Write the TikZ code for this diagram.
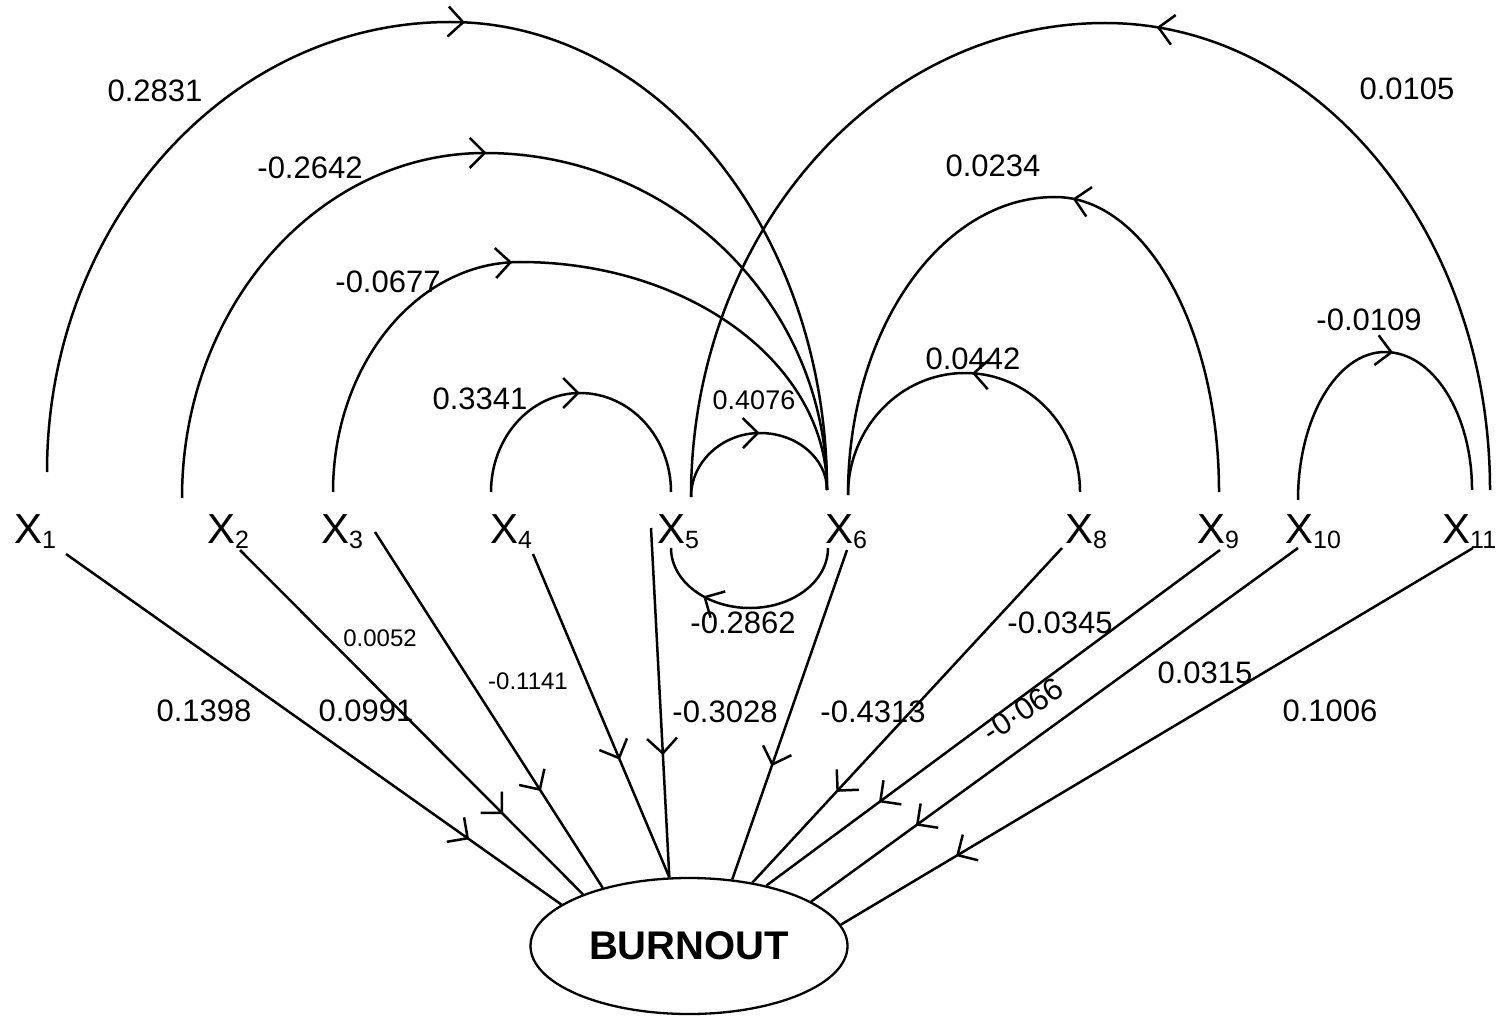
\documentclass[tikz,border=0pt]{standalone}
\usepackage{fontspec}
\setmainfont{Liberation Sans}
\usetikzlibrary{arrows.meta,decorations.markings,shapes.geometric}

\begin{document}
\begin{tikzpicture}[x=1pt,y=-1pt,
  conn/.style={line width=2.5pt},
  mid/.style={postaction={decorate},
    decoration={markings,mark=at position #1 with {\arrow{Straight Barb[length=15pt,width=30pt]}}}},
  var/.style={inner sep=0pt,anchor=base west,font=\fontsize{42}{50}\selectfont},
  lab/.style={inner sep=0pt,font=\fontsize{31}{37}\selectfont},
  midlab/.style={inner sep=0pt,font=\fontsize{27}{32}\selectfont},
  smalllab/.style={inner sep=0pt,font=\fontsize{24}{28}\selectfont},
  outcome/.style={ellipse,draw,line width=2.3pt,minimum width=317pt,minimum height=136pt,
    inner sep=0pt,font=\bfseries\fontsize{40}{48}\selectfont}
]
\useasboundingbox (0,0) rectangle (1506,1016);

\newcommand{\sub}[1]{\raisebox{-5pt}{\fontsize{25}{25}\selectfont #1}}

% variables
\node[var] (X1)  at (14,543)   {X\sub{1}};
\node[var] (X2)  at (207,543)  {X\sub{2}};
\node[var] (X3)  at (321,543)  {X\sub{3}};
\node[var] (X4)  at (490,543)  {X\sub{4}};
\node[var] (X5)  at (657,543)  {X\sub{5}};
\node[var] (X6)  at (825,543)  {X\sub{6}};
\node[var] (X8)  at (1065,543) {X\sub{8}};
\node[var] (X9)  at (1197,543) {X\sub{9}};
\node[var] (X10) at (1285,543) {X\sub{10}};
\node[var] (X11) at (1442,543) {X\sub{11}};

\node[outcome] (B) at (689,946) {BURNOUT};

% feet of the curved links above the variables
\coordinate (X1u)  at (47,472);
\coordinate (X2u)  at (182,498);
\coordinate (X3u)  at (333,492);
\coordinate (X4u)  at (491,492);
\coordinate (X5w)  at (671,492);
\coordinate (X5u)  at (691,497);
\coordinate (X6u)  at (827,490);
\coordinate (X6r)  at (848,495);
\coordinate (X8u)  at (1080,492);
\coordinate (X9u)  at (1219,492);
\coordinate (X10u) at (1298,500);
\coordinate (X11i) at (1472,490);
\coordinate (X11o) at (1490,490);
% feet of the loop below X5 and X6
\coordinate (X5l)  at (671,548);
\coordinate (X6l)  at (828,548);
% feet of the straight links to BURNOUT
\coordinate (X1d)  at (66,554);
\coordinate (X2d)  at (240,550);
\coordinate (X3d)  at (375,532);
\coordinate (X4d)  at (533,554);
\coordinate (X5d)  at (651,528);
\coordinate (X6d)  at (847,550);
\coordinate (X8d)  at (1062,548);
\coordinate (X9d)  at (1220,550);
\coordinate (X10d) at (1298,548);
\coordinate (X11d) at (1473,548);

% curved links between variables
\draw[conn,mid=0.513] (X1u) .. controls +(0,-248.5) and +(-222.6,0) .. (450,22)
  .. controls +(208.2,0) and +(0,-258.5) .. (X6u);
\draw[conn,mid=0.49] (X2u) .. controls +(0,-190.5) and +(-167.3,0) .. (485,153)
  .. controls +(188.9,0) and +(0,-186.1) .. (X6u);
\draw[conn,mid=0.427] (X3u) .. controls +(0,-127) and +(-103.3,0) .. (520,262)
  .. controls +(169.6,0) and +(0,-125.9) .. (X6u);
\draw[conn,mid=0.497] (X4u) .. controls +(0,-54.7) and +(-49.2,0) .. (580,393)
  .. controls +(50.3,0) and +(0,-54.7) .. (X5w);
\draw[conn,mid=0.515] (X5u) .. controls +(0,-35.3) and +(-37.6,0) .. (760,433)
  .. controls +(37,0) and +(0,-31.5) .. (X6u);
\draw[conn,mid=0.721] (X6l) .. controls +(0,33.1) and +(43.1,0) .. (750,608)
  .. controls +(-43.6,0) and +(0,33.1) .. (X5l);
\draw[conn,mid=0.476] (X8u) .. controls +(0,-65.7) and +(63.5,0) .. (965,373)
  .. controls +(-64.6,0) and +(0,-67.4) .. (X6r);
\draw[conn,mid=0.456] (X9u) .. controls +(0,-162.9) and +(90.6,0) .. (1055,197)
  .. controls +(-114.3,0) and +(0,-164.6) .. (X6r);
\draw[conn,mid=0.452] (X11o) .. controls +(0,-257.9) and +(212.6,0) .. (1105,23)
  .. controls +(-228.7,0) and +(0,-261.8) .. (X5u);
\draw[conn,mid=0.534] (X10u) .. controls +(0,-81.7) and +(-48,0) .. (1385,352)
  .. controls +(48,0) and +(0,-76.2) .. (X11i);

% straight links to BURNOUT
\draw[conn,mid=0.814] (X1d)  -- (B.162);
\draw[conn,mid=0.767] (X2d)  -- (B.154);
\draw[conn,mid=0.728] (X3d)  -- (B.146);
\draw[conn,mid=0.636] (X4d)  -- (B.106);
\draw[conn,mid=0.65]  (X5d)  -- (B.106);
\draw[conn,mid=0.656] (X6d)  -- (B.57);
\draw[conn,mid=0.729] (X8d)  -- (B.45);
\draw[conn,mid=0.752] (X9d)  -- (B.38.5);
\draw[conn,mid=0.785] (X10d) -- (B.20.3);
\draw[conn,mid=0.818] (X11d) -- (B.8.2);

% coefficients
\node[lab]      (c1)  at (155,91)   {0.2831};
\node[lab]      (c2)  at (310,168)  {-0.2642};
\node[lab]      (c3)  at (388,282)  {-0.0677};
\node[lab]      (c4)  at (480,399)  {0.3341};
\node[midlab]   (c5)  at (754,400)  {0.4076};
\node[lab]      (c6)  at (743,623)  {-0.2862};
\node[lab]      (c7)  at (993,166)  {0.0234};
\node[lab]      (c8)  at (973,359)  {0.0442};
\node[lab]      (c9)  at (1407,89)  {0.0105};
\node[lab]      (c10) at (1369,320) {-0.0109};
\node[lab]      (c11) at (204,711)  {0.1398};
\node[lab]      (c12) at (366,711)  {0.0991};
\node[smalllab] (c13) at (380,638)  {0.0052};
\node[smalllab] (c14) at (528,681)  {-0.1141};
\node[lab]      (c15) at (725,712)  {-0.3028};
\node[lab]      (c16) at (873,712)  {-0.4313};
\node[lab]      (c17) at (1060,623) {-0.0345};
\node[lab,rotate=33.5] (c18) at (1023,710) {-0·066};
\node[lab]      (c19) at (1205,673) {0.0315};
\node[lab]      (c20) at (1330,711) {0.1006};
\end{tikzpicture}
\end{document}
